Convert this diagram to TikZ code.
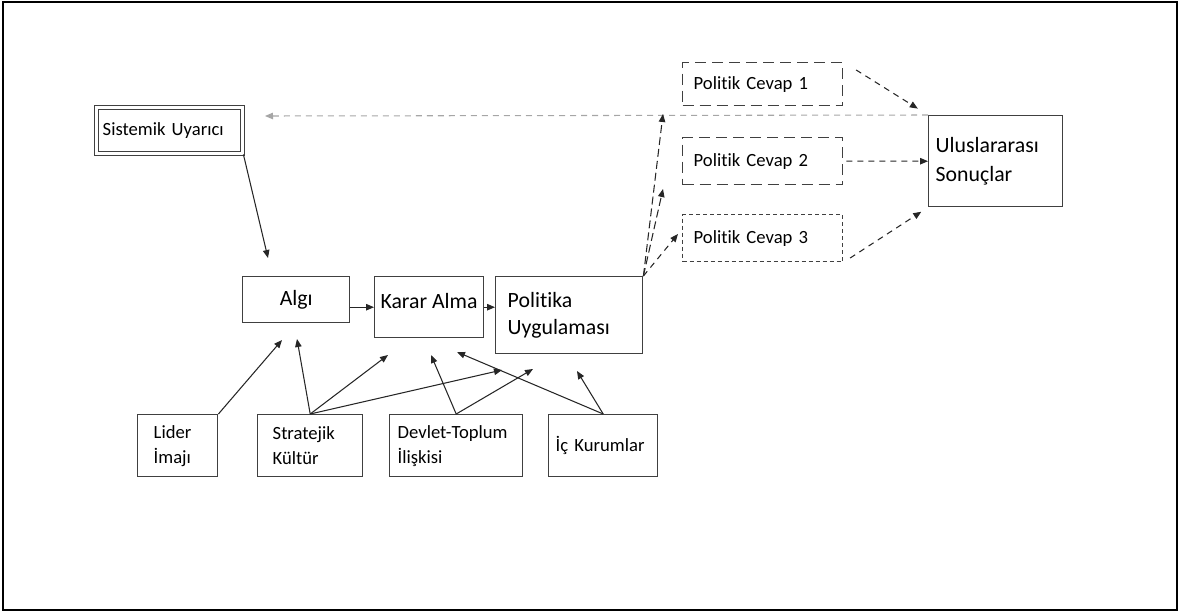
\documentclass[tikz,border=0pt]{standalone}
\usepackage{fontspec}
\setmainfont{Carlito}[Ligatures=NoCommon]
\usetikzlibrary{arrows.meta}

\tikzset{
  box/.style={draw=black!75, line width=0.8pt, anchor=north west, inner ysep=0pt,
    font=\fontsize{12.4}{15.3}\selectfont},
  smallbox/.style={box, font=\fontsize{10.6}{14.2}\selectfont},
  dashbox/.style={smallbox, dash pattern=on 2.2mm off 1.2mm},
  arr/.style={-{Triangle[length=1.6mm,width=1.3mm]}, line width=0.6pt, black!85},
  darr/.style={arr, dash pattern=on 1.2mm off 1mm},
}

\begin{document}
\begin{tikzpicture}[x=0.2mm, y=-0.2mm]
        \useasboundingbox (0,0) rectangle (1180,614);
        % Frame
        \draw[line width=0.9pt] (3,2) rectangle (1177,610);
        % Boxes, upper row
        \node[smallbox, double=white, double distance=0.5mm, minimum height=9.2mm,
          text width=26.8mm, inner xsep=1.2mm, align=left] (sistemik) at (96,107) {Sistemik Uyarıcı};
        \node[box, minimum width=21.4mm, minimum height=9.2mm] (algi) at (242,276) {Algı};
        \node[box, minimum width=21.4mm, minimum height=12.2mm, text depth=2.4mm] (karar) at (374,276) {Karar Alma};
        \node[box, minimum height=15.4mm, text width=24.6mm, inner xsep=2.4mm, align=left] (politika) at (495,276) {Politika\\Uygulaması};
        \node[dashbox, minimum height=8.6mm, text width=27.6mm, inner xsep=2.2mm, align=left] (pc1) at (682,62) {Politik Cevap 1};
        \node[dashbox, minimum height=9.4mm, text width=27.6mm, inner xsep=2.2mm, align=left] (pc2) at (682,137) {Politik Cevap 2};
        \node[dashbox, dash pattern=on 0.8mm off 0.6mm, minimum height=9.4mm, text width=27.6mm,
          inner xsep=2.2mm, align=left] (pc3) at (682,214) {Politik Cevap 3};
        \node[box, font=\fontsize{12.4}{17}\selectfont, minimum height=18.2mm, text width=24mm,
          inner xsep=1.4mm, align=left] (ulus) at (928,115) {Uluslararası\\Sonuçlar};
        % Boxes, lower row
        \node[smallbox, minimum height=12.4mm, text width=9.6mm, inner xsep=3.2mm, align=left] (lider) at (137,414) {Lider\\İmajı};
        \node[smallbox, minimum height=12.4mm, text width=15mm, inner xsep=3mm, align=left] (strat) at (257,414) {Stratejik\\Kültür};
        \node[smallbox, minimum height=12.4mm, text width=23.4mm, inner xsep=1.6mm, align=left] (devlet) at (389,414) {Devlet-Toplum\\İlişkisi};
        \node[smallbox, minimum height=12.4mm, text width=19mm, inner xsep=1.4mm, align=left] (ic) at (548,414) {İç Kurumlar};
        % Arrow ends
        \coordinate (algi-in) at (268,258);
        \coordinate (geri) at (265,116);
        \coordinate (pc1-in) at (663,114);
        \coordinate (pc2-in) at (663,189);
        \coordinate (pc3-in) at (678,234);
        \coordinate (algi-l) at (282,340);
        \coordinate (algi-s) at (297,339);
        \coordinate (karar-s) at (388,355);
        \coordinate (karar-d) at (431,355);
        \coordinate (karar-i) at (457,352);
        \coordinate (pol-s) at (502,370);
        \coordinate (pol-d) at (533,369);
        \coordinate (pol-i) at (577,371);
        % Main chain
        \draw[arr] (sistemik.south east) -- (algi-in);
        \draw[arr] (algi.east |- karar.west) -- (karar.west);
        \draw[arr] (karar.east) -- (karar.east -| politika.west);
        \draw[darr, gray!70] (ulus.north west) -- (geri);
        \draw[darr, dash pattern=on 1.6mm off 0.8mm] (politika.north east) -- (pc1-in);
        \draw[darr, dash pattern=on 1.6mm off 0.8mm] (politika.north east) -- (pc2-in);
        \draw[darr] (politika.north east) -- (pc3-in);
        \draw[darr, shorten <=3mm, shorten >=2.4mm] (pc1.north east) -- (ulus.north west);
        \draw[darr, shorten <=0.6mm] (pc2.east) -- (ulus.west);
        \draw[darr, shorten <=1.6mm, shorten >=1.6mm] (pc3.south east) -- (ulus.south west);
        % Arrows from below
        \draw[arr] (lider.north east) -- (algi-l);
        \draw[arr] (strat.north) -- (algi-s);
        \draw[arr] (strat.north) -- (karar-s);
        \draw[arr] (strat.north) -- (pol-s);
        \draw[arr] (devlet.north) -- (karar-d);
        \draw[arr] (devlet.north) -- (pol-d);
        \draw[arr] (ic.north) -- (karar-i);
        \draw[arr] (ic.north) -- (pol-i);
    \end{tikzpicture}
\end{document}
